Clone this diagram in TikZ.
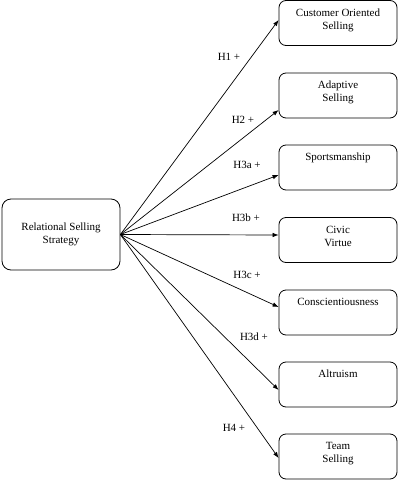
\documentclass[tikz,border=0pt]{standalone}
\usepackage{fontspec}
\setmainfont{Liberation Serif}
\usetikzlibrary{arrows.meta}

\tikzset{
    outcome/.style={draw, rounded corners=7pt, line width=0.8pt,
        minimum width=118pt, minimum height=45pt, align=center,
        text depth=8pt, font=\fontsize{11}{13}\selectfont},
    source/.style={draw, rounded corners=9pt, line width=0.8pt,
        minimum width=118pt, minimum height=71pt, align=center,
        font=\fontsize{11}{13}\selectfont},
    hyp/.style={inner sep=0pt, font=\fontsize{11}{13}\selectfont},
    link/.style={-{Latex[length=6pt,width=4.5pt]}, line width=0.7pt}
}

\begin{document}
\begin{tikzpicture}[x=1pt, y=-1pt]
    \useasboundingbox (0,0) rectangle (400,480);
    \node[source] (rss) at (61,234.5) {Relational Selling\\Strategy};
    % outcomes, hypotheses and links
    \foreach \n/\y/\txt/\dy/\lab/\lx/\ly in {
        1/23/{Customer Oriented\\Selling}/3/H1/229/57,
        2/95.5/{Adaptive\\Selling}/-14.5/H2/243/120,
        3/167.5/{Sportsmanship\\\mbox{}}/-7.5/H3a/247/165,
        4/240/{Civic\\Virtue}/5/H3b/246/218,
        5/312.5/{Conscientiousness\\\mbox{}}/5.5/H3c/247/275,
        6/384.5/{Altruism\\\mbox{}}/-5.5/H3d/254/337,
        7/456.5/{Team\\Selling}/-1.5/H4/234/428
    } {
        \node[outcome] (b\n) at (338,\y) {\txt};
        \node[hyp] (h\n) at (\lx,\ly) {\lab\ +};
        \draw[link] (rss.east) -- ([yshift=\dy pt]b\n.west);
    }
\end{tikzpicture}
\end{document}
